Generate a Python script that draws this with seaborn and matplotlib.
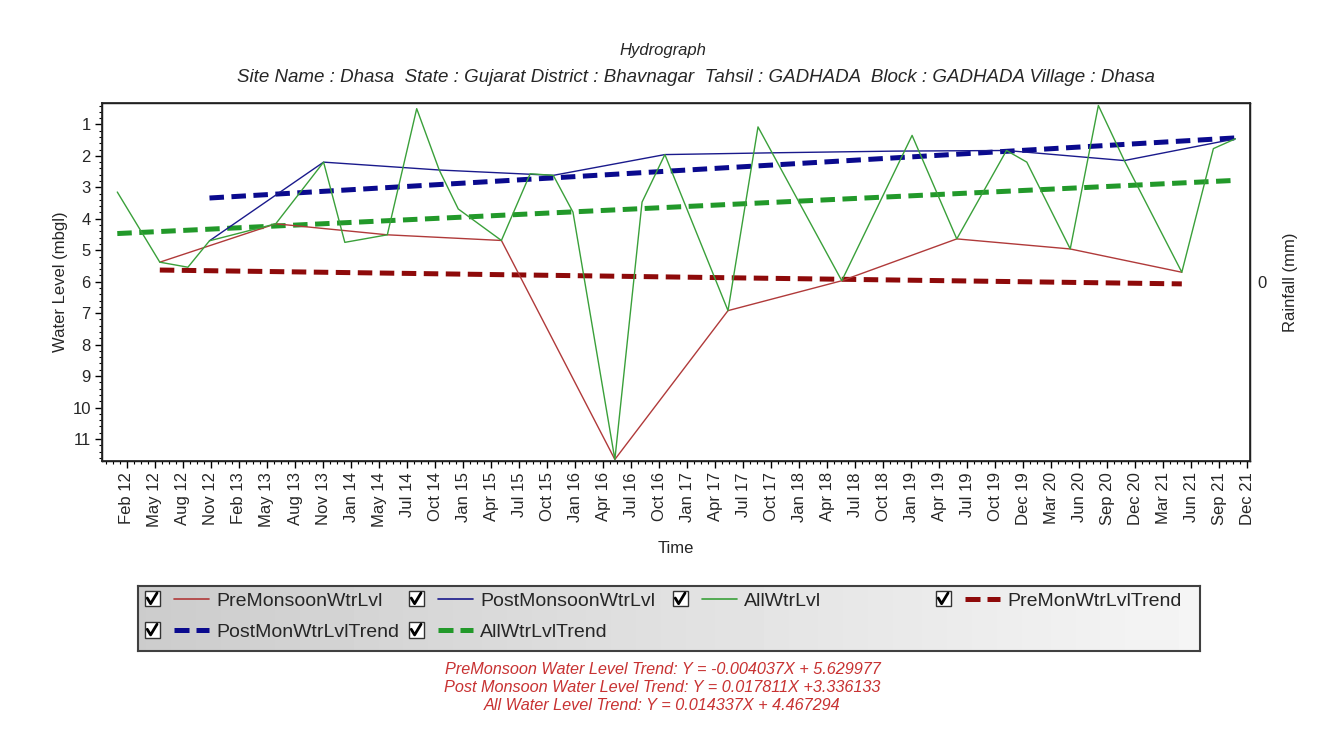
import matplotlib
matplotlib.use("Agg")
import matplotlib.pyplot as plt
from matplotlib.lines import Line2D
from matplotlib.patches import Rectangle
from matplotlib.legend_handler import HandlerBase
from matplotlib.ticker import AutoMinorLocator
import numpy as np
import pandas as pd
import seaborn as sns

TITLE = "Hydrograph"
SUBTITLE = ("Site Name : Dhasa  State : Gujarat District : Bhavnagar  "
            "Tahsil : GADHADA  Block : GADHADA Village : Dhasa")

# ── data (depth below ground, m) ─────────────────────
ALL_DATES = ["2012-01-15", "2012-05-30", "2012-08-28", "2012-11-05", "2013-06-05",
             "2013-11-05", "2014-01-12", "2014-05-28", "2014-08-30", "2014-11-10",
             "2015-01-10", "2015-05-28", "2015-08-28", "2015-11-10", "2016-01-12",
             "2016-05-25", "2016-08-20", "2016-11-01", "2017-05-22", "2017-08-26",
             "2018-05-21", "2019-01-01", "2019-05-24", "2019-10-30", "2020-01-03",
             "2020-05-21", "2020-08-19", "2020-11-10", "2021-05-13", "2021-08-22",
             "2021-10-31"]
ALL_LEVELS = [3.15, 5.38, 5.54, 4.70, 4.16,
              2.20, 4.75, 4.51, 0.50, 2.45,
              3.69, 4.69, 2.57, 2.62, 3.79,
              11.65, 3.47, 1.96, 6.92, 1.08,
              5.97, 1.35, 4.64, 1.83, 2.20,
              4.96, 0.40, 2.15, 5.70, 1.77,
              1.46]

PRE_DATES = ["2012-05-30", "2013-06-05", "2014-05-28", "2015-05-28", "2016-05-25",
             "2017-05-22", "2018-05-21", "2019-05-24", "2020-05-21", "2021-05-13"]
PRE_LEVELS = [5.38, 4.16, 4.51, 4.69, 11.65, 6.92, 5.97, 4.64, 4.96, 5.70]

POST_DATES = ["2012-11-05", "2013-11-05", "2014-11-10", "2015-11-10", "2016-11-01",
              "2017-11-05", "2018-11-05", "2019-10-30", "2020-11-10", "2021-10-31"]
POST_LEVELS = [4.70, 2.20, 2.45, 2.62, 1.96, 1.90, 1.85, 1.83, 2.15, 1.46]

PRE_TREND_DATES = ["2012-05-30", "2021-05-13"]
PRE_TREND_LEVELS = [5.63, 6.07]
POST_TREND_DATES = ["2012-11-05", "2021-10-31"]
POST_TREND_LEVELS = [3.34, 1.43]
ALL_TREND_DATES = ["2012-01-15", "2021-10-31"]
ALL_TREND_LEVELS = [4.47, 2.78]

TICK_LABELS = ["Feb 12", "May 12", "Aug 12", "Nov 12", "Feb 13", "May 13", "Aug 13",
               "Nov 13", "Jan 14", "May 14", "Jul 14", "Oct 14", "Jan 15", "Apr 15",
               "Jul 15", "Oct 15", "Jan 16", "Apr 16", "Jul 16", "Oct 16", "Jan 17",
               "Apr 17", "Jul 17", "Oct 17", "Jan 18", "Apr 18", "Jul 18", "Oct 18",
               "Jan 19", "Apr 19", "Jul 19", "Oct 19", "Dec 19", "Mar 20", "Jun 20",
               "Sep 20", "Dec 20", "Mar 21", "Jun 21", "Sep 21", "Dec 21"]
FIRST_TICK = "2012-02-15"
LAST_TICK = "2021-12-08"
X_RANGE = ["2011-11-27", "2021-12-17"]
Y_RANGE = [11.7, 0.32]

# legend entries, in the order they fill the four legend columns
LEGEND_COLUMNS = [["PreMonsoonWtrLvl", "PostMonWtrLvlTrend"],
                  ["PostMonsoonWtrLvl", "AllWtrLvlTrend"],
                  ["AllWtrLvl"],
                  ["PreMonWtrLvlTrend"]]
TREND_TEXT = ["PreMonsoon Water Level Trend: Y = -0.004037X + 5.629977",
              "Post Monsoon Water Level Trend: Y = 0.017811X +3.336133",
              "All Water Level Trend: Y = 0.014337X + 4.467294"]

C_PRE, C_POST, C_ALL = "#b03a3a", "#1a1a8c", "#3aa03a"
C_PRE_T, C_POST_T, C_ALL_T = "#8e0a0a", "#0a0a8e", "#22992a"
TREND_LS = (0, (2.9, 1.5))
STYLE = {
    "PreMonsoonWtrLvl": dict(color=C_PRE, lw=1.2),
    "PostMonsoonWtrLvl": dict(color=C_POST, lw=1.2),
    "AllWtrLvl": dict(color=C_ALL, lw=1.2),
    "PreMonWtrLvlTrend": dict(color=C_PRE_T, lw=3.6, linestyle=(0, (3.0, 1.4))),
    "PostMonWtrLvlTrend": dict(color=C_POST_T, lw=3.6, linestyle=(0, (3.0, 1.4))),
    "AllWtrLvlTrend": dict(color=C_ALL_T, lw=3.6, linestyle=(0, (3.0, 1.4))),
}


class CheckedLine(HandlerBase):
    """Legend key drawn as a ticked check box followed by the line sample."""

    def create_artists(self, legend, orig_handle, xdescent, ydescent,
                       width, height, fontsize, trans):
        cy = height / 2 - ydescent
        s = 11.0
        x0 = -xdescent
        box = Rectangle((x0, cy - s / 2), s, s, facecolor="white",
                        edgecolor="#333333", lw=1.0, transform=trans)
        tick = Line2D([x0 + 0.18 * s, x0 + 0.4 * s, x0 + 0.82 * s],
                      [cy + 0.05 * s, cy - 0.32 * s, cy + 0.38 * s],
                      color="black", lw=2.0, transform=trans)
        line = Line2D([x0 + s + 10, x0 + width], [cy, cy])
        line.update_from(orig_handle)
        line.set_transform(trans)
        return [box, tick, line]


sns.set_theme(style="ticks")
plt.rcParams["font.family"] = ["Liberation Sans", "DejaVu Sans"]

fig, ax = plt.subplots(figsize=(13.33, 7.49), dpi=100)
fig.subplots_adjust(left=0.0765, right=0.9377, top=0.8625, bottom=0.3845)

to_dt = pd.to_datetime
for d, v, c in [(PRE_TREND_DATES, PRE_TREND_LEVELS, C_PRE_T),
                (POST_TREND_DATES, POST_TREND_LEVELS, C_POST_T),
                (ALL_TREND_DATES, ALL_TREND_LEVELS, C_ALL_T)]:
    sns.lineplot(x=to_dt(d), y=v, ax=ax, color=c, lw=3.6, linestyle=TREND_LS,
                 legend=False, sort=False)
for d, v, c in [(PRE_DATES, PRE_LEVELS, C_PRE),
                (POST_DATES, POST_LEVELS, C_POST),
                (ALL_DATES, ALL_LEVELS, C_ALL)]:
    sns.lineplot(x=to_dt(d), y=v, ax=ax, color=c, lw=1.0, legend=False, sort=False)

ticks = pd.date_range(FIRST_TICK, LAST_TICK, periods=len(TICK_LABELS))
ax.set_xticks(ticks)
ax.set_xticklabels(TICK_LABELS, rotation=90)
ax.xaxis.set_minor_locator(AutoMinorLocator(4))
ax.set_xlim(to_dt(X_RANGE[0]), to_dt(X_RANGE[1]))
ax.set_ylim(*Y_RANGE)
ax.set_yticks(np.arange(1, 12))
ax.yaxis.set_minor_locator(AutoMinorLocator(5))
ax.tick_params(axis="both", which="major", direction="out", length=5, width=1,
               color="black", labelsize=12, pad=3)
ax.tick_params(axis="both", which="minor", direction="out", length=2.5, width=0.8,
               color="black")
for s in ax.spines.values():
    s.set_color("black")
    s.set_linewidth(1.0)
ax.set_xlabel("Time", fontsize=12, labelpad=10)
ax.set_ylabel("Water Level (mbgl)", fontsize=12, labelpad=3)

ax2 = ax.twinx()
ax2.set_ylim(-1, 1)
ax2.set_yticks([0])
ax2.tick_params(axis="y", length=0, pad=5, labelsize=12)
ax2.set_ylabel("Rainfall (mm)", fontsize=12, labelpad=12)

fig.text(0.4975, 0.932, TITLE, ha="center", va="center", style="italic", fontsize=12)
fig.text(0.522, 0.896, SUBTITLE, ha="center", va="center", style="italic", fontsize=13.5)

# legend panel: shaded box with one legend per column
panel = fig.add_axes([138 / 1333, 1 - 651 / 749, 1062 / 1333, 65 / 749])
panel.imshow(np.linspace(0.80, 0.96, 256)[None, :], cmap="gray", vmin=0, vmax=1,
             aspect="auto", extent=(0, 1, 0, 1))
panel.set_xticks([])
panel.set_yticks([])
for s in panel.spines.values():
    s.set_color("#404040")
    s.set_linewidth(1.5)

col_x = [144.5, 408.5, 672.5, 935.5]
for x, names in zip(col_x, LEGEND_COLUMNS):
    handles = [Line2D([], [], **STYLE[n]) for n in names]
    fig.legend(handles, names, loc="upper left",
               bbox_to_anchor=(x / 1333, 1 - 592 / 749), borderaxespad=0,
               borderpad=0, frameon=False, fontsize=14, handlelength=3.34,
               handletextpad=0.36, labelspacing=0.7,
               handler_map={Line2D: CheckedLine()})

for i, line in enumerate(TREND_TEXT):
    fig.text(0.497, 1 - (669 + 18 * i) / 749, line, ha="center", va="center",
             style="italic", fontsize=11.7, color="#c83232")

fig.savefig("out.png", dpi=100, facecolor="white")
